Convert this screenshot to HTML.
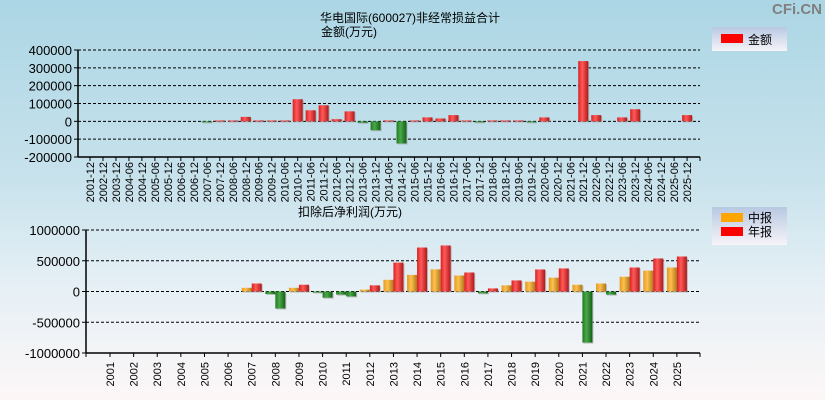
<!DOCTYPE html>
<html><head><meta charset="utf-8"><style>
html,body{margin:0;padding:0;width:825px;height:400px;overflow:hidden;}
html{background:linear-gradient(#acd6e5 0%,#c8e2ec 45%,#e4eff5 70%,#fdf7f7 100%);}
body{font-family:"Liberation Sans","Noto Sans CJK SC",sans-serif;}
svg{display:block;}
svg text{font-family:"Liberation Sans","Noto Sans CJK SC",sans-serif;}
</style></head><body>
<svg id="c" width="825" height="400" xmlns="http://www.w3.org/2000/svg">
<defs>
<linearGradient id="gr" x1="0" x2="1"><stop offset="0" stop-color="#d82020"/><stop offset="0.4" stop-color="#ff5a5a"/><stop offset="1" stop-color="#b01818"/></linearGradient>
<linearGradient id="gg" x1="0" x2="1"><stop offset="0" stop-color="#1e7a1e"/><stop offset="0.4" stop-color="#4aa84a"/><stop offset="1" stop-color="#146014"/></linearGradient>
<linearGradient id="go" x1="0" x2="1"><stop offset="0" stop-color="#e09a20"/><stop offset="0.4" stop-color="#ffc050"/><stop offset="1" stop-color="#b07818"/></linearGradient>
<linearGradient id="lg" x1="0" y1="0" x2="0" y2="1"><stop offset="0" stop-color="#b8c8e2"/><stop offset="1" stop-color="#f6f4f8"/></linearGradient>
</defs>
<text x="822" y="14" text-anchor="end" font-size="15" font-weight="bold" fill="#808080">CFi.CN</text>
<text x="410" y="22" text-anchor="middle" font-size="12">华电国际(600027)非经常损益合计</text>
<text x="349" y="36" text-anchor="middle" font-size="12">金额(万元)</text>
<g>
<rect x="712" y="27" width="75" height="24" fill="url(#lg)"/>
<rect x="721" y="34" width="22" height="9" fill="#ff0000"/>
<text x="748" y="44" font-size="12">金额</text>
</g>
<text x="350" y="216" text-anchor="middle" font-size="12">扣除后净利润(万元)</text>
<g>
<rect x="712" y="207" width="75" height="38" fill="url(#lg)"/>
<rect x="721" y="213" width="22" height="9" fill="#ffa500"/>
<text x="748" y="222" font-size="12">中报</text>
<rect x="721" y="227" width="22" height="9" fill="#ff0000"/>
<text x="748" y="236" font-size="12">年报</text>
</g>
<g id="top"></g><g id="bot"></g>
</svg>
<script>
const topCats=["2001-12","2002-12","2003-12","2004-06","2004-12","2005-06","2005-12","2006-06","2006-12","2007-06","2007-12","2008-06","2008-12","2009-06","2009-12","2010-06","2010-12","2011-06","2011-12","2012-06","2012-12","2013-06","2013-12","2014-06","2014-12","2015-06","2015-12","2016-06","2016-12","2017-06","2017-12","2018-06","2018-12","2019-06","2019-12","2020-06","2020-12","2021-06","2021-12","2022-06","2022-12","2023-06","2023-12","2024-06","2024-12","2025-06","2025-12"];
const topVals=[0,0,0,0,0,0,0,0,0,-3000,5000,5000,25000,5000,5000,5000,124000,62000,90000,12000,56000,-8000,-50000,5000,-124000,5000,22000,16000,35000,5000,-4000,5000,5000,5000,-3000,22000,0,0,338000,35000,0,22000,68000,0,0,0,35000];
const topTicks=[400000,300000,200000,100000,0,-100000,-200000];
const botYears=["2001","2002","2003","2004","2005","2006","2007","2008","2009","2010","2011","2012","2013","2014","2015","2016","2017","2018","2019","2020","2021","2022","2023","2024","2025"];
const botMid=[0,0,0,0,0,0,60000,-40000,60000,-15000,-50000,30000,190000,270000,360000,260000,-30000,100000,160000,225000,110000,130000,240000,340000,390000];
const botAnn=[0,0,0,0,0,0,130000,-276000,110000,-100000,-80000,100000,470000,715000,748000,309000,50000,180000,358000,375000,-830000,-50000,390000,537000,569000];
const botTicks=[1000000,500000,0,-500000,-1000000];

const NS="http://www.w3.org/2000/svg";
function mk(p,tag,at){const e=document.createElementNS(NS,tag);for(const k in at)e.setAttribute(k,at[k]);p.appendChild(e);return e;}
function axes(g,x0,x1,yTop,yBot,vTop,vBot,ticks,nameP){
  const y=v=>yTop+(vTop-v)/(vTop-vBot)*(yBot-yTop);
  ticks.forEach(t=>{
    const l=mk(g,'line',{x1:x0,x2:x1,y1:y(t),y2:y(t),stroke:'#000','stroke-dasharray':'3,2','stroke-width':1});
    
    
    mk(g,'line',{x1:x0-4,x2:x0,y1:y(t),y2:y(t),stroke:'#000'});
    const tx=mk(g,'text',{x:x0-6,y:y(t)+5,'text-anchor':'end','font-size':13});
    tx.textContent=t;
    
    
  });
  const ax=mk(g,'line',{x1:x0,x2:x0,y1:yTop,y2:yBot,stroke:'#000','stroke-width':1.5});
  
  
  const bx=mk(g,'line',{x1:x0,x2:x1,y1:yBot,y2:yBot,stroke:'#000','stroke-width':1.5});
  
  
  return y;
}
function bar(g,cx,w,y,v,fill,name){
  if(v===0)return;
  const y0=y(0),y1=y(v);
  const top=Math.min(y0,y1),h=Math.max(Math.abs(y1-y0),1);
  mk(g,'rect',{x:cx+1,y:top+1,width:w,height:h,fill:'#999','opacity':0.6});
  const r=mk(g,'rect',{x:cx,y:top,width:w,height:h,fill:v<0?'url(#gg)':fill});
  
  
}
(function(){
  const g=document.getElementById('top');
  const x0=78,x1=700;
  const y=axes(g,x0,x1,50,157,400000,-200000,topTicks,'top');
  const step=12.98,c0=90;
  topCats.forEach((c,i)=>{
    const cx=c0+step*i;
    mk(g,'line',{x1:cx,x2:cx,y1:157,y2:161,stroke:'#000'});
    const t=mk(g,'text',{x:0,y:0,'text-anchor':'end','font-size':11,transform:`translate(${cx+4},162) rotate(-90)`});
    t.textContent=c;
    
    
    bar(g,cx-5,10,y,topVals[i],'url(#gr)','bar-'+c);
  });
  mk(g,'line',{x1:x1,x2:x1,y1:157,y2:161,stroke:'#000'});
})();
(function(){
  const g=document.getElementById('bot');
  const x0=86,x1=700;
  const y=axes(g,x0,x1,230,353,1000000,-1000000,botTicks,'bottom');
  const step=23.62,c0=110;
  mk(g,'line',{x1:x0,x2:x0,y1:353,y2:357,stroke:'#000'});
  botYears.forEach((c,i)=>{
    const cx=c0+step*i;
    mk(g,'line',{x1:cx,x2:cx,y1:353,y2:357,stroke:'#000'});
    const t=mk(g,'text',{x:0,y:0,'text-anchor':'end','font-size':11,transform:`translate(${cx+4},362) rotate(-90)`});
    t.textContent=c;
    
    
    bar(g,cx-10,10,y,botMid[i],'url(#go)','bar-mid-'+c);
    bar(g,cx,10,y,botAnn[i],'url(#gr)','bar-annual-'+c);
  });
  mk(g,'line',{x1:x1,x2:x1,y1:353,y2:357,stroke:'#000'});
})();
</script>
</body></html>
